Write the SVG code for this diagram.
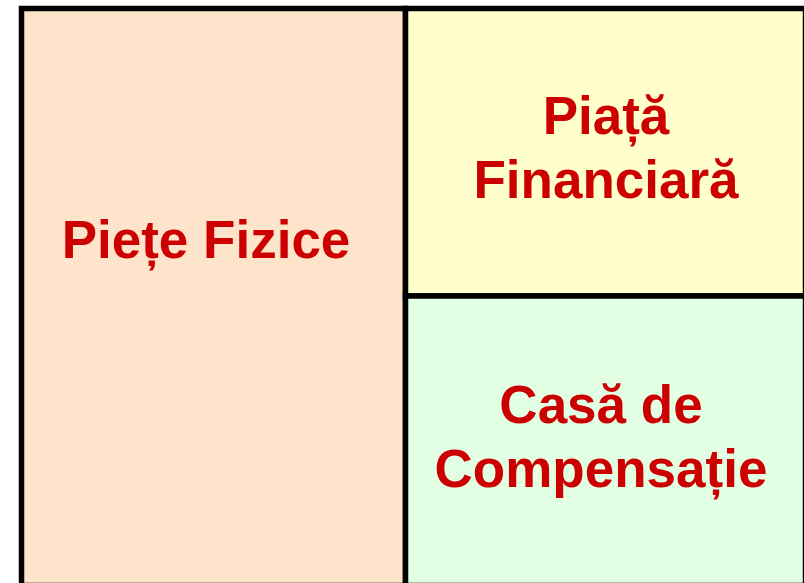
<svg xmlns="http://www.w3.org/2000/svg" width="804" height="583" viewBox="0 0 804 583">
<style>
.box{stroke:#000;stroke-width:5.5}
.t{font-family:"Liberation Sans",Arial,sans-serif;font-weight:bold;font-size:53px;fill:#CC0000;text-anchor:middle}
</style>
<rect width="804" height="583" fill="#fff"/>
<g id="piete-fizice">
<rect class="box" x="21.5" y="8.5" width="384" height="577" fill="#FFE4CC"/>
<text class="t" x="206" y="258">Piețe Fizice</text>
</g>
<g id="piata-financiara">
<rect class="box" x="405.5" y="8.5" width="400" height="287.5" fill="#FFFFCC"/>
<text class="t" x="606" y="134">Piață</text>
<text class="t" x="606" y="198">Financiară</text>
</g>
<g id="casa-de-compensatie">
<rect class="box" x="405.5" y="296" width="400" height="289.5" fill="#E3FFE3"/>
<text class="t" x="601" y="423">Casă de</text>
<text class="t" x="601" y="487">Compensație</text>
</g>
<g id="connectors"></g>
</svg>
